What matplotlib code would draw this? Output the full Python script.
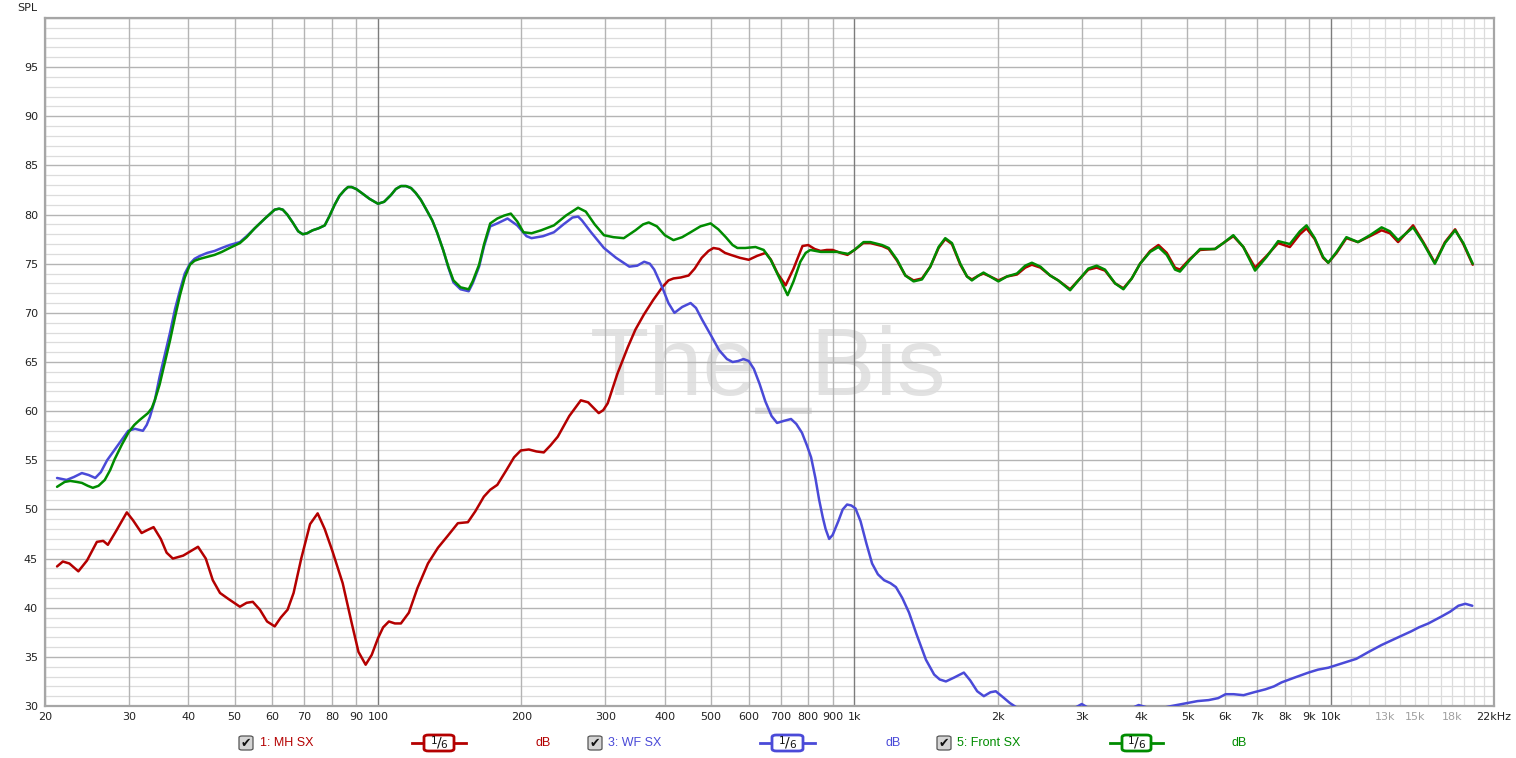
"""
REW style frequency response: MH SX, WF SX and Front SX (1/6 octave smoothing).
"""

import matplotlib
matplotlib.use('Agg')
import matplotlib.pyplot as plt
from matplotlib.patches import FancyBboxPatch
from matplotlib.lines import Line2D

# ---- data (Hz, dB SPL) ----
mh_freq = [21.2, 21.8, 22.5, 23.5, 24.5, 25.7, 26.5, 27.1, 28.2, 29.7, 30.6, 31.9,
           32.8, 33.8, 35.0, 36.0, 37.1, 39.0, 41.9, 43.5, 45.0, 46.6, 48.5, 51.3,
           53.0, 54.6, 56.5, 58.5, 60.7, 62.5, 64.6, 66.5, 69.0, 72.0, 74.7, 77.3,
           80.3, 84.3, 88.0, 91.0, 94.2, 97.0, 100, 102.5, 105.4, 108.5, 111.7, 116.1,
           121, 127.3, 133.6, 140, 147.1, 154.4, 160, 166.8, 172, 178, 186, 193,
           199.4, 207.3, 215, 222.8, 230, 238.4, 252, 266.5, 276, 290.6, 297, 303.5,
           318, 334.4, 347, 361.2, 378, 395, 407, 417, 432, 448.7, 462, 478, 494,
           506, 520, 535, 550, 575, 600, 625, 651, 668, 690, 717, 745, 778, 800, 825,
           849, 875, 900, 935, 967, 1000, 1044, 1080, 1143, 1180, 1229, 1279, 1331,
           1386, 1443, 1502, 1551, 1602, 1668, 1723, 1764, 1823, 1866, 1927, 2005,
           2090, 2193, 2283, 2357, 2457, 2575, 2678, 2836, 2975, 3097, 3224, 3357,
           3524, 3669, 3820, 3977, 4175, 4346, 4524, 4709, 4822, 5062, 5314, 5712,
           5946, 6241, 6551, 6932, 7332, 7751, 8201, 8610, 8890, 9250, 9630, 9875,
           10280, 10780, 11400, 12080, 12780, 13300, 13840, 14880, 15630, 16530,
           17360, 18230, 18970, 19850]
mh_db = [44.2, 44.7, 44.5, 43.7, 44.8, 46.7, 46.8, 46.4, 47.8, 49.7, 48.9, 47.6,
         47.9, 48.2, 47.0, 45.6, 45.0, 45.3, 46.2, 45.0, 42.8, 41.5, 40.9, 40.1,
         40.5, 40.6, 39.8, 38.6, 38.1, 39.0, 39.8, 41.5, 45.0, 48.5, 49.6, 48.0,
         45.7, 42.5, 38.5, 35.5, 34.2, 35.2, 36.9, 38.0, 38.6, 38.4, 38.4, 39.5,
         42.0, 44.5, 46.1, 47.3, 48.6, 48.7, 49.8, 51.3, 52.0, 52.5, 54.0, 55.3,
         56.0, 56.1, 55.9, 55.8, 56.5, 57.4, 59.5, 61.1, 60.9, 59.8, 60.1, 60.8,
         63.8, 66.5, 68.3, 69.8, 71.3, 72.6, 73.3, 73.5, 73.6, 73.8, 74.5, 75.6, 76.3,
         76.6, 76.5, 76.1, 75.9, 75.6, 75.4, 75.8, 76.1, 75.4, 74.0, 72.8, 74.5, 76.8, 76.9, 76.5,
         76.3, 76.4, 76.4, 76.1, 75.9, 76.4, 77.1, 77.1, 76.8, 76.5, 75.3, 73.8, 73.3,
         73.5, 74.7, 76.6, 77.5, 77.0, 74.9, 73.7, 73.4, 73.8, 74.0, 73.7, 73.3,
         73.7, 73.9, 74.6, 74.9, 74.6, 73.8, 73.3, 72.4, 73.5, 74.4, 74.6, 74.3,
         73.0, 72.5, 73.5, 75.0, 76.3, 76.9, 76.1, 74.6, 74.4, 75.5, 76.4, 76.5,
         77.1, 77.8, 76.7, 74.6, 75.8, 77.1, 76.7, 78.0, 78.6, 77.5, 75.6, 75.1,
         76.1, 77.6, 77.2, 77.8, 78.4, 78.1, 77.2, 78.9, 77.2, 75.1,
         77.2, 78.5, 77.0, 74.9]

wf_freq = [21.2, 22.2, 23.0, 23.9, 24.7, 25.5, 26.2, 27.0, 28.5, 29.9, 30.9, 31.5,
           32.1, 32.7, 33.2, 34.0, 34.8, 35.7, 36.6, 37.5, 38.4, 39.3, 40.3, 41.2,
           42.3, 43.8, 45.4, 47.0, 48.8, 51.3, 53.0, 55.1, 57.9, 60.7, 62.0, 63.1,
           64.5, 66.2, 68.0, 69.5, 71.0, 72.9, 75.0, 77.3, 79.0, 81.1, 83.0, 85.1,
           86.5, 88.0, 90.0, 92.4, 96.0, 100, 103, 106.5, 109, 111.7, 114.5, 117.3,
           120, 123, 126, 130, 133, 137, 140.5, 144, 149, 152, 155, 158, 163, 167,
           172, 178, 187, 196, 205, 210, 222, 234, 245, 256, 263, 268, 280, 298,
           316, 337, 350, 362, 372, 380, 395, 407, 419, 435, 453, 465, 479, 500,
           520, 540, 555, 570, 585, 600, 615, 632, 650, 670, 688, 710, 736, 755,
           776, 795, 811, 828, 843, 858, 870, 885, 900, 925, 945, 965, 985, 1005,
           1030, 1060, 1089, 1120, 1154, 1190, 1222, 1260, 1302, 1350, 1413, 1470,
           1510, 1556, 1620, 1697, 1750, 1810, 1869, 1930, 1980, 2050, 2120, 2182,
           2300, 2600, 2850, 3000, 3150, 3450, 3750, 3950, 4150, 4330, 4632, 5000,
           5250, 5538, 5800, 6012, 6250, 6558, 6900, 7292, 7600, 7878, 8400, 8974,
           9400, 9884, 10500, 11310, 12000, 12770, 13300, 13860, 14750, 15300,
           16020, 17060, 17800, 18520, 19150, 19810]
wf_db = [53.2, 53.0, 53.3, 53.7, 53.5, 53.2, 53.8, 55.0, 56.6, 58.0, 58.2, 58.1,
         58.0, 58.6, 59.4, 61.1, 63.5, 65.8, 68.0, 70.4, 72.3, 74.0, 75.0, 75.5,
         75.8, 76.1, 76.3, 76.6, 76.9, 77.2, 77.8, 78.6, 79.6, 80.5, 80.6, 80.5,
         80.0, 79.2, 78.3, 78.0, 78.1, 78.4, 78.6, 78.9, 79.8, 81.0, 81.9, 82.5,
         82.8, 82.8, 82.6, 82.2, 81.6, 81.1, 81.3, 82.0, 82.6, 82.9, 82.9, 82.7,
         82.2, 81.5, 80.6, 79.4, 78.2, 76.4, 74.6, 73.1, 72.4, 72.3, 72.2, 73.0, 74.7, 76.8,
         78.8, 79.1, 79.6, 78.9, 77.8, 77.6, 77.8, 78.2, 79.0, 79.7, 79.8, 79.4, 78.2, 76.6,
         75.6, 74.7, 74.8, 75.2, 75.0, 74.4, 72.6, 71.0, 70.0, 70.6, 71.0, 70.5, 69.3, 67.7,
         66.2, 65.3, 65.0, 65.1, 65.3, 65.1, 64.3, 62.8, 61.0, 59.5, 58.8, 59.0, 59.2, 58.7,
         57.8, 56.5, 55.3, 53.2, 51.0, 49.2, 48.0, 47.0, 47.4, 48.8, 50.0, 50.5, 50.4, 50.1,
         48.8, 46.5, 44.5, 43.4, 42.8, 42.5, 42.1, 41.0, 39.5, 37.3, 34.7, 33.2,
         32.7, 32.5, 32.9, 33.4, 32.6, 31.5, 31.0, 31.4, 31.5, 30.9, 30.3, 29.9,
         29.3, 29.0, 29.6, 30.2, 29.6, 29.3, 29.6, 30.1, 29.8, 29.7, 30.0, 30.3,
         30.5, 30.6, 30.8, 31.2, 31.2, 31.1, 31.4, 31.7, 32.0, 32.4, 32.9, 33.4,
         33.7, 33.9, 34.3, 34.8, 35.5, 36.2, 36.6, 37.0, 37.6, 38.0,
         38.4, 39.1, 39.6, 40.2, 40.4, 40.2]

front_freq = [21.2, 22.0, 22.6, 23.3, 23.9, 24.6, 25.2, 25.9, 26.7, 27.4, 28.0, 29.0,
              30.0, 30.8, 31.6, 32.9, 33.5, 34.0, 34.8, 35.7, 36.6, 37.5, 38.4, 39.3,
              40.3, 41.2, 42.3, 43.8, 45.4, 47.0, 48.8, 51.3, 53.0, 55.1, 57.9, 60.7,
              62.0, 63.1, 64.5, 66.2, 68.0, 69.5, 71.0, 72.9, 75.0, 77.3, 79.0, 81.1,
              83.0, 85.1, 86.5, 88.0, 90.0, 92.4, 96.0, 100, 103, 106.5, 109, 111.7,
              114.5, 117.3, 120, 123, 126, 130, 133, 137, 140.5, 144, 149, 152, 155,
              158, 163, 167, 172, 178, 184, 190, 196, 202, 210, 220, 234, 248, 263,
              273, 285, 298, 312, 328, 347, 360, 370, 385, 400, 417, 435, 453, 475,
              499, 518, 537, 555, 568, 590, 620, 645, 667, 695, 724, 745, 770, 790,
              808, 850, 891, 920, 944, 970,
              1000, 1045, 1080, 1143, 1180, 1229, 1279, 1331, 1386, 1443, 1502, 1551,
              1602, 1668, 1723, 1764, 1823, 1866, 1927, 2005, 2090, 2193, 2283, 2357,
              2457, 2575, 2678, 2836, 2975, 3097, 3224, 3357, 3524, 3669, 3820, 3977,
              4175, 4346, 4524, 4709, 4822, 5062, 5314, 5712, 5946, 6241, 6551, 6932,
              7332, 7751, 8201, 8610, 8890, 9250, 9630, 9875, 10280, 10780, 11400,
              12080, 12780, 13300, 13840, 14880, 15630, 16530, 17360, 18230, 18970,
              19850]
front_db = [52.3, 52.8, 52.9, 52.8, 52.7, 52.4, 52.2, 52.4, 53.0, 54.0, 55.1, 56.6,
            57.9, 58.6, 59.1, 59.8, 60.3, 61.1, 62.7, 65.0, 67.2, 69.6, 71.8, 73.6,
            74.9, 75.3, 75.5, 75.7, 75.9, 76.2, 76.6, 77.1, 77.7, 78.6, 79.6, 80.5,
            80.6, 80.5, 80.0, 79.2, 78.3, 78.0, 78.1, 78.4, 78.6, 78.9, 79.8, 81.0,
            81.9, 82.5, 82.8, 82.8, 82.6, 82.2, 81.6, 81.1, 81.3, 82.0, 82.6, 82.9,
            82.9, 82.7, 82.2, 81.5, 80.6, 79.4, 78.2, 76.4, 74.7, 73.3, 72.6, 72.5, 72.4,
            73.2, 74.9, 77.0, 79.1, 79.6, 79.9, 80.1, 79.3, 78.2, 78.1, 78.4, 78.9, 79.9, 80.7,
            80.3, 79.0, 77.9, 77.7, 77.6, 78.4, 79.0, 79.2, 78.8, 77.9, 77.4, 77.7, 78.2, 78.8,
            79.1, 78.5, 77.7, 76.9, 76.6, 76.6, 76.7, 76.4, 75.4, 73.6, 71.8, 73.2, 75.2, 76.1,
            76.4, 76.2, 76.2, 76.2, 76.1, 76.0,
            76.4, 77.2, 77.2, 76.9, 76.6, 75.4, 73.8, 73.2, 73.4, 74.7, 76.7, 77.6,
            77.1, 75.0, 73.7, 73.3, 73.8, 74.1, 73.7, 73.2, 73.7, 74.0, 74.8, 75.1,
            74.7, 73.8, 73.3, 72.3, 73.5, 74.5, 74.8, 74.4, 73.0, 72.4, 73.5, 75.0,
            76.2, 76.7, 75.9, 74.4, 74.2, 75.4, 76.5, 76.5, 77.1, 77.9, 76.7, 74.3,
            75.7, 77.3, 77.0, 78.3, 78.9, 77.6, 75.7, 75.1, 76.2, 77.7, 77.2,
            77.9, 78.7, 78.3, 77.4, 78.7, 77.1, 75.0, 77.1, 78.4, 77.1,
            75.0]

series_names = ['1: MH SX', '3: WF SX', '5: Front SX']
series_colors = ['#b40000', '#4a4ad8', '#008c00']

x_major = [20, 30, 40, 50, 60, 70, 80, 90, 100, 200, 300, 400, 500, 600, 700, 800,
           900, 1000, 2000, 3000, 4000, 5000, 6000, 7000, 8000, 9000, 10000]
x_major_labels = ['20', '30', '40', '50', '60', '70', '80', '90', '100', '200', '300',
                  '400', '500', '600', '700', '800', '900', '1k', '2k', '3k', '4k', '5k',
                  '6k', '7k', '8k', '9k', '10k']
x_high = [11000, 12000, 13000, 14000, 15000, 16000, 17000, 18000, 19000, 20000, 21000]
x_high_labels = {13000: '13k', 15000: '15k', 18000: '18k'}
y_labels = list(range(30, 100, 5))


def main():
    fig = plt.figure(figsize=(15.16, 7.58), dpi=100)
    fig.patch.set_facecolor('white')
    ax = fig.add_axes([45 / 1516, 52 / 758, 1449 / 1516, 688 / 758])
    ax.set_xscale('log')
    ax.set_xlim(20, 22000)
    ax.set_ylim(30, 100)

    # grid: 1 dB light, 5 dB darker, decades darkest
    for v in range(31, 100):
        if v % 5:
            ax.axhline(v, color='#dcdcdc', lw=0.9, zorder=1)
    for v in y_labels[1:] + [100]:
        ax.axhline(v, color='#b4b4b4', lw=1.0, zorder=1.1)
    for f in x_high:
        ax.axvline(f, color='#dcdcdc', lw=0.9, zorder=1)
    for f in x_major:
        col = '#7c7c7c' if f in (100, 1000, 10000) else '#b4b4b4'
        ax.axvline(f, color=col, lw=1.0, zorder=1.1)

    # watermark
    ax.text(0.499, 0.452, 'The_Bis', transform=ax.transAxes, ha='center', va='baseline',
            fontsize=70, color='#e2e2e2', family='Liberation Sans', zorder=0.5)

    ax.plot(mh_freq, mh_db, color=series_colors[0], lw=1.8, zorder=3,
            solid_joinstyle='round', solid_capstyle='round')
    ax.plot(wf_freq, wf_db, color=series_colors[1], lw=1.8, zorder=3.1,
            solid_joinstyle='round', solid_capstyle='round')
    ax.plot(front_freq, front_db, color=series_colors[2], lw=1.8, zorder=3.2,
            solid_joinstyle='round', solid_capstyle='round')

    # ticks
    ax.set_xticks(x_major)
    ax.set_xticklabels(x_major_labels)
    ax.xaxis.set_minor_locator(matplotlib.ticker.NullLocator())
    ax.yaxis.set_minor_locator(matplotlib.ticker.NullLocator())
    ax.set_yticks(y_labels)
    ax.set_yticklabels([str(v) for v in y_labels])
    ax.tick_params(length=0, labelsize=8, colors='#222222', pad=4)
    ax.tick_params(axis='y', pad=5)
    for f, lab in x_high_labels.items():
        ax.annotate(lab, xy=(f, 0), xycoords=('data', 'axes fraction'),
                    xytext=(0, -4), textcoords='offset points', ha='center', va='top',
                    fontsize=8, color='#a0a0a0')
    ax.annotate('22kHz', xy=(22000, 0), xycoords=('data', 'axes fraction'),
                xytext=(0, -4), textcoords='offset points', ha='center', va='top',
                fontsize=8, color='#222222')
    fig.text(17 / 1516, 1 - 8 / 758, 'SPL', ha='left', va='center', fontsize=8, color='#222222')

    for s in ax.spines.values():
        s.set_color('#a6a6a6')
        s.set_linewidth(1.6)

    # legend row
    ly = 1 - 743 / 758
    chk = [246, 595, 944]
    name_x = [260, 608, 957]
    line_x = [(412, 466), (760, 815), (1110, 1163)]
    db_x = [536, 886, 1232]
    px = 1 / 1516
    py = 1 / 758
    for i in range(3):
        col = series_colors[i]
        cx = chk[i] * px
        fig.patches.append(FancyBboxPatch((cx - 7 * px, ly - 7 * py), 14 * px, 14 * py,
                                          boxstyle='round,pad=0,rounding_size=0.002',
                                          transform=fig.transFigure, facecolor='#d4d4d4',
                                          edgecolor='#555555', lw=0.9))
        fig.text(cx, ly, '\u2714', ha='center', va='center', fontsize=9, color='#111111')
        fig.text(name_x[i] * px, ly, series_names[i], ha='left', va='center',
                 fontsize=9, color=col, family='Liberation Sans')
        x0, x1 = line_x[i]
        fig.lines.append(Line2D([x0 * px, x1 * px], [ly, ly], transform=fig.transFigure,
                                color=col, lw=2))
        fig.patches.append(FancyBboxPatch(((x0 + 12) * px, ly - 8 * py), (x1 - x0 - 24) * px,
                                          16 * py,
                                          boxstyle='round,pad=0,rounding_size=0.003',
                                          transform=fig.transFigure, facecolor='white',
                                          edgecolor=col, lw=2, zorder=3))
        mid = (x0 + x1) / 2 * px
        fig.text(mid - 5 * px, ly + 2 * py, '1', ha='center', va='center', fontsize=7.5,
                 color='#111111', zorder=4)
        fig.text(mid, ly, '/', ha='center', va='center', fontsize=10,
                 color='#111111', zorder=4)
        fig.text(mid + 5 * px, ly - 2 * py, '6', ha='center', va='center', fontsize=7.5,
                 color='#111111', zorder=4)
        fig.text(db_x[i] * px, ly, 'dB', ha='left', va='center', fontsize=9,
                 color=col, family='Liberation Sans')

    fig.savefig('out.png', dpi=100, facecolor='white')


if __name__ == '__main__':
    main()
